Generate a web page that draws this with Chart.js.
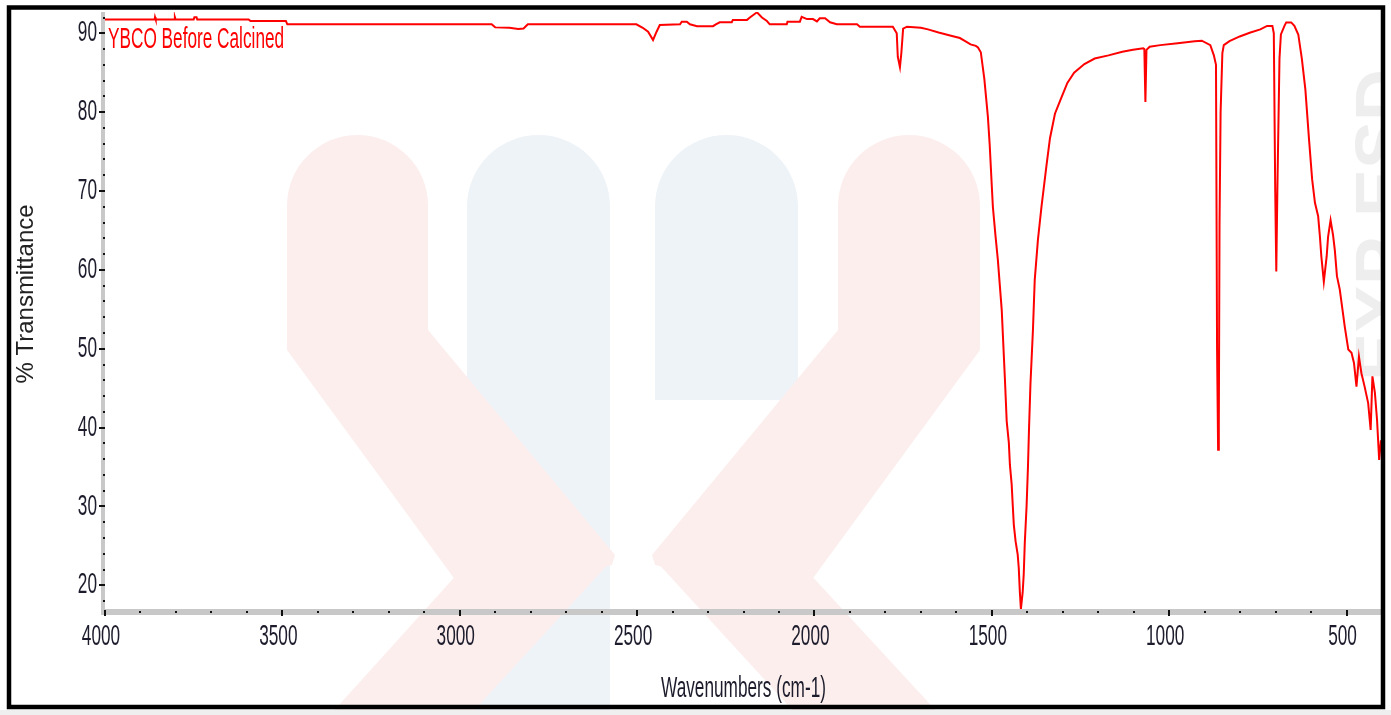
<!DOCTYPE html>
<html>
<head>
<meta charset="utf-8">
<script src="https://cdn.jsdelivr.net/npm/chart.js"></script>
<style>
  html, body { margin: 0; padding: 0; background: #fff; overflow: hidden; }
  #wrap { width: 1391px; height: 715px; position: relative; }
</style>
</head>
<body>
<div id="wrap"><canvas id="myChart"></canvas></div>
<script>
// FTIR spectrum
const wavenumbers = [
  4000, 3900, 3860, 3859, 3857, 3805, 3803, 3801, 3750, 3748, 3742, 3740, 3595, 3590, 3490, 3486,
  2910, 2900, 2860, 2835, 2820, 2808, 2502, 2484, 2469, 2455, 2445, 2436, 2379, 2374, 2360, 2351,
  2331, 2286, 2278, 2267, 2233, 2230, 2190, 2182, 2162, 2148, 2134, 2126, 2078, 2076, 2041, 2036,
  2021, 2004, 1993, 1985, 1970, 1956, 1937, 1880, 1872, 1779, 1768, 1765, 1759, 1755, 1750, 1739,
  1700, 1680, 1650, 1615, 1590, 1575, 1560, 1545, 1539, 1531, 1521, 1511, 1506, 1500, 1497, 1490,
  1483, 1472, 1463, 1458, 1452, 1449, 1444, 1441, 1438, 1433, 1427, 1424, 1421, 1418, 1413, 1410,
  1407, 1402, 1398, 1395, 1391, 1384, 1379, 1370, 1360, 1346, 1336, 1322, 1307, 1287, 1268, 1239,
  1210, 1171, 1132, 1102, 1073, 1070, 1067, 1064, 1055, 1025, 976, 928, 908, 884, 874, 868,
  865, 862, 860, 858, 855, 850, 846, 830, 801, 773, 743, 724, 709, 705, 701, 698,
  695, 689, 685, 675, 670, 656, 647, 636, 626, 616, 606, 597, 589, 580, 575, 571,
  564, 556, 552, 545, 538, 533, 527, 519, 510, 505, 495, 486, 479, 472, 465, 458,
  449, 439, 432, 427, 420, 414, 408, 403, 400
];
const transmittance = [
  91.75, 91.75, 91.75, 92.05, 91.75, 91.75, 92.05, 91.75, 91.75, 92.05, 92.05, 91.75, 91.75, 91.55, 91.55, 91.14,
  91.14, 90.75, 90.7, 90.55, 90.6, 91.14, 91.14, 90.7, 90.2, 89.15, 90.2, 91.05, 91.14, 91.47, 91.47, 91.14,
  90.9, 90.9, 91.14, 91.4, 91.4, 91.7, 91.7, 92.0, 92.66, 92.0, 91.56, 91.14, 91.14, 91.47, 91.47, 92.1,
  91.8, 91.8, 91.5, 91.9, 91.9, 91.4, 91.14, 91.14, 90.84, 90.84, 90.0, 87.0, 85.7, 87.5, 90.6, 90.84,
  90.7, 90.5, 90.1, 89.7, 89.4, 89.0, 88.6, 88.4, 88.2, 87.6, 84.2, 79.4, 75.9, 70.6, 68.0, 64.5,
  61.3, 54.9, 46.1, 40.8, 38.1, 35.3, 32.8, 30.2, 27.7, 25.6, 23.9, 22.2, 19.2, 17.0, 19.1, 21.4,
  25.4, 30.0, 35.1, 40.0, 45.6, 52.4, 58.7, 63.8, 68.0, 73.2, 76.7, 79.8, 81.5, 83.7, 85.0, 86.1,
  86.8, 87.2, 87.66, 87.9, 88.1, 88.0, 81.3, 87.9, 88.3, 88.5, 88.75, 89.0, 89.06, 88.5, 87.2, 86.0,
  50.0, 37.2, 40.0, 66.0, 80.0, 87.5, 88.5, 89.0, 89.6, 90.06, 90.5, 90.94, 90.94, 90.0, 70.0, 59.8,
  70.0, 86.8, 89.85, 90.94, 91.38, 91.38, 90.94, 89.85, 86.8, 82.85, 76.7, 71.5, 68.5, 66.8, 64.2, 61.7,
  58.5, 61.7, 64.2, 66.3, 64.4, 62.5, 59.2, 57.5, 54.5, 52.8, 49.9, 49.5, 48.2, 45.2, 49.0, 46.9,
  45.2, 43.1, 39.7, 46.5, 44.4, 41.0, 35.9, 38.4, 37.0
];
const xTicks = [4000, 3500, 3000, 2500, 2000, 1500, 1000, 500];
const yTicks = [20, 30, 40, 50, 60, 70, 80, 90];
const seriesName = 'YBCO Before Calcined';

const labelFont = "21px 'Liberation Sans', Arial, sans-serif";

// narrow, tall lettering like the instrument software
function tallText(ctx, s, px, py, align, baseline) {
  ctx.save();
  ctx.translate(px, py);
  ctx.scale(0.82, 1.4);
  ctx.textAlign = align;
  ctx.textBaseline = baseline;
  ctx.fillText(s, 0, 0);
  ctx.restore();
}

function arch(ctx, x0, x1, top, bottom) {
  const r = (x1 - x0) / 2;
  ctx.beginPath();
  ctx.moveTo(x0, bottom);
  ctx.lineTo(x0, top + r);
  ctx.arc(x0 + r, top + r, r, Math.PI, 0);
  ctx.lineTo(x1, bottom);
  ctx.closePath();
  ctx.fill();
}

function poly(ctx, pts) {
  ctx.beginPath();
  ctx.moveTo(pts[0][0], pts[0][1]);
  for (let i = 1; i < pts.length; i++) ctx.lineTo(pts[i][0], pts[i][1]);
  ctx.closePath();
  ctx.fill();
}

const decor = {
  id: 'decor',
  beforeDraw(chart) {
    const ctx = chart.ctx;
    ctx.save();
    ctx.fillStyle = '#fff';
    ctx.fillRect(0, 0, chart.width, chart.height);
    // faint logo watermark (opaque tints so overlaps don't darken)
    ctx.fillStyle = '#eef3f8';
    arch(ctx, 467, 610, 135, 715);
    arch(ctx, 655, 798, 135, 400);
    ctx.fillStyle = '#fdeeee';
    arch(ctx, 287, 428, 135, 350);
    poly(ctx, [[287, 330], [428, 330], [615, 555], [612, 565], [470, 600], [287, 350]]);
    poly(ctx, [[470, 560], [612, 560], [470, 715], [330, 715]]);
    arch(ctx, 838, 980, 135, 350);
    poly(ctx, [[980, 330], [838, 330], [652, 555], [655, 565], [797, 600], [980, 350]]);
    poly(ctx, [[797, 560], [655, 560], [797, 715], [940, 715]]);
    // vertical watermark lettering at the right edge
    ctx.beginPath();
    ctx.rect(1340, 12, 41, 600);
    ctx.clip();
    ctx.fillStyle = '#eeeeee';
    ctx.font = "bold 72px 'Liberation Sans', Arial, sans-serif";
    ctx.translate(1350, 225);
    ctx.rotate(-Math.PI / 2);
    ctx.textAlign = 'center';
    ctx.textBaseline = 'top';
    ctx.fillText('EXP ESD', 0, 0);
    ctx.restore();
  },
  afterDraw(chart) {
    const ctx = chart.ctx;
    const a = chart.chartArea;
    const xs = chart.scales.x;
    const ys = chart.scales.y;
    ctx.save();
    // grey axis strips
    ctx.fillStyle = '#c8c8c8';
    ctx.fillRect(a.left - 4, a.top, 4, a.bottom - a.top + 6);
    ctx.fillRect(a.left - 4, a.bottom, a.right - a.left + 4, 6);
    ctx.fillStyle = '#111';
    // y ticks
    for (let v = 18; v <= 92; v += 2) {
      const py = Math.round(ys.getPixelForValue(v));
      if (v % 10 === 0) ctx.fillRect(a.left - 6, py - 1, 6, 2);
      else ctx.fillRect(a.left - 2, py - 1, 2, 2);
    }
    // x ticks
    for (let v = 400; v <= 4000; v += 100) {
      const px = Math.round(xs.getPixelForValue(v));
      if (v % 500 === 0) ctx.fillRect(px - 1, a.bottom + 1, 2, 6);
      else ctx.fillRect(px - 1, a.bottom + 2, 2, 2);
    }
    // tick labels
    ctx.fillStyle = '#1c1c2c';
    ctx.font = labelFont;
    yTicks.forEach(v => tallText(ctx, String(v), a.left - 8, ys.getPixelForValue(v), 'right', 'middle'));
    xTicks.forEach(v => tallText(ctx, String(v), xs.getPixelForValue(v) - 4, 637, 'center', 'middle'));
    // axis titles
    tallText(ctx, 'Wavenumbers (cm-1)', (a.left + a.right) / 2, 697, 'center', 'alphabetic');
    ctx.save();
    ctx.font = "24px 'Liberation Sans', Arial, sans-serif";
    ctx.fillStyle = '#222';
    ctx.translate(33, 294);
    ctx.rotate(-Math.PI / 2);
    ctx.textAlign = 'center';
    ctx.textBaseline = 'alphabetic';
    ctx.fillText('% Transmittance', 0, 0);
    ctx.restore();
    // series label
    ctx.fillStyle = '#ff0000';
    tallText(ctx, seriesName, a.left + 3, 48, 'left', 'alphabetic');
    // outer frame
    ctx.fillStyle = '#efefef';
    ctx.fillRect(0, 710, chart.width, 5);
    ctx.strokeStyle = '#000';
    ctx.lineWidth = 4.5;
    ctx.strokeRect(9, 7.5, 1374, 699.5);
    ctx.restore();
  }
};

const points = wavenumbers.map((w, i) => ({ x: w, y: transmittance[i] }));

const config = {
  type: 'line',
  data: {
    datasets: [{
      label: seriesName,
      data: points,
      borderColor: '#ff0000',
      borderWidth: 2,
      pointRadius: 0,
      tension: 0,
      fill: false
    }]
  },
  options: {
    responsive: true,
    maintainAspectRatio: false,
    animation: false,
    devicePixelRatio: 1,
    layout: { padding: { top: 12, right: 9, left: 0, bottom: 0 } },
    plugins: {
      legend: { display: false },
      tooltip: { enabled: false }
    },
    scales: {
      x: {
        type: 'linear',
        reverse: true,
        min: 400,
        max: 4000,
        grid: { display: false },
        border: { display: false },
        ticks: { display: false },
        afterFit: s => { s.height = 106; }
      },
      y: {
        min: 17,
        max: 92.7,
        grid: { display: false },
        border: { display: false },
        ticks: { display: false },
        afterFit: s => { s.width = 105; }
      }
    }
  },
  plugins: [decor]
};

const myChart = new Chart(document.getElementById('myChart'), config);
</script>
</body>
</html>
